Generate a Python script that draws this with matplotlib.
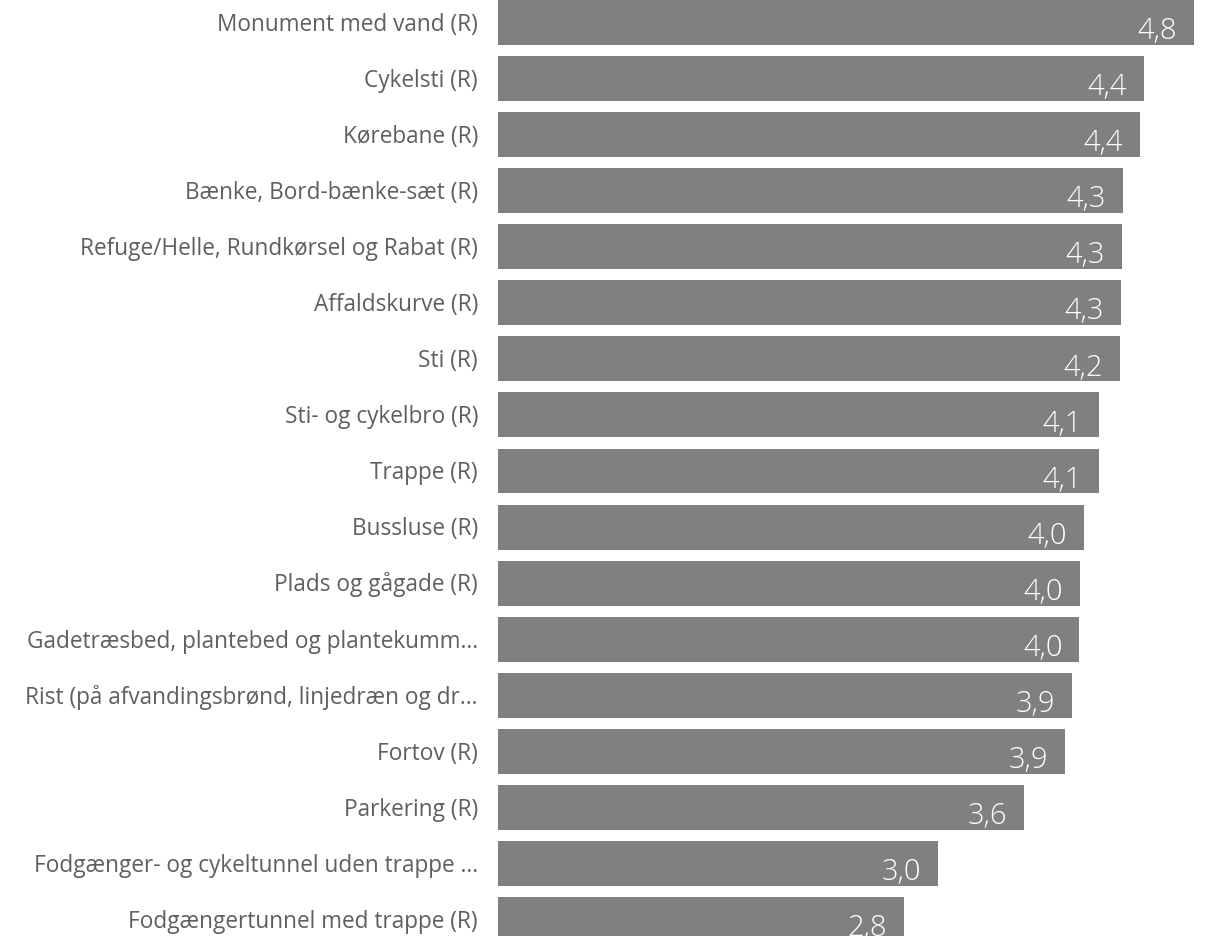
import matplotlib.pyplot as plt

plt.rcParams['font.family'] = ['Open Sans', 'DejaVu Sans']

categories = [
    'Monument med vand (R)',
    'Cykelsti (R)',
    'Kørebane (R)',
    'Bænke, Bord-bænke-sæt (R)',
    'Refuge/Helle, Rundkørsel og Rabat (R)',
    'Affaldskurve (R)',
    'Sti (R)',
    'Sti- og cykelbro (R)',
    'Trappe (R)',
    'Bussluse (R)',
    'Plads og gågade (R)',
    'Gadetræsbed, plantebed og plantekumm...',
    'Rist (på afvandingsbrønd, linjedræn og dr...',
    'Fortov (R)',
    'Parkering (R)',
    'Fodgænger- og cykeltunnel uden trappe ...',
    'Fodgængertunnel med trappe (R)',
]
values = [4.75, 4.41, 4.385, 4.27, 4.26, 4.255, 4.249, 4.105, 4.105,
          4.00, 3.975, 3.97, 3.92, 3.87, 3.59, 3.005, 2.77]

W, H = 1205, 937
fig = plt.figure(figsize=(W / 100, H / 100), dpi=100)
ax = fig.add_axes([498 / W, 0, 703 / W, 1])

pos = list(range(len(categories)))
ax.barh(pos, values, height=0.8, color='#808080')
ax.set_xlim(0, 4.8)
ax.set_ylim(16.29, -0.415)
ax.axis('off')

for i, (name, v) in enumerate(zip(categories, values)):
    ax.annotate(name, xy=(0, i + 0.13), xycoords=('axes fraction', 'data'),
                xytext=(-20, 0), textcoords='offset pixels',
                ha='right', va='baseline', fontsize=16.3, color='#5f5f5f')
    ax.annotate(f'{v:.1f}'.replace('.', ','), xy=(v, i + 0.28),
                xytext=(-17, 0), textcoords='offset pixels',
                ha='right', va='baseline', fontsize=21, color='white',
                fontweight='light')

fig.savefig('out.png', dpi=100)
